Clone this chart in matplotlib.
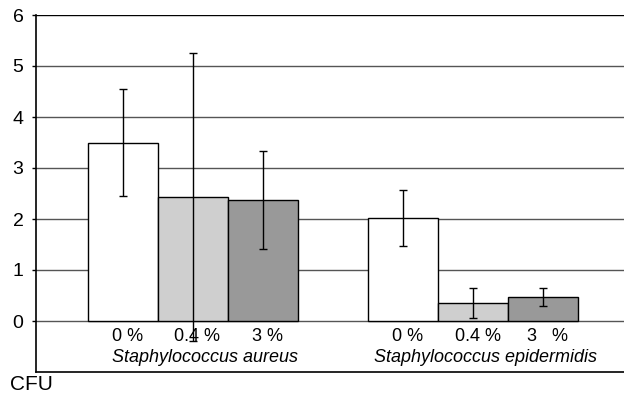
import numpy as np
import matplotlib.pyplot as plt

plt.rcParams['font.family'] = ['Liberation Sans', 'DejaVu Sans']

# ── data ──────────────────────────────────────────────────────────────────
SPECIES  = ['Staphylococcus aureus', 'Staphylococcus epidermidis']
CONC     = ['0 %', '0.4 %', '3 %']
CONC_LBL = [['0 %', '0.4 %', '3 %'], ['0 %', '0.4 %', '3   %']]
MEANS    = [[3.50, 2.43, 2.37], [2.02, 0.35, 0.47]]
ERRS     = [[1.05, 2.83, 0.96], [0.54, 0.29, 0.18]]
COLORS   = ['#ffffff', '#cfcfcf', '#999999']
YTICKS   = [0, 1, 2, 3, 4, 5, 6]

# ── plot ──────────────────────────────────────────────────────────────────
fig = plt.figure(figsize=(6.24, 3.95), dpi=100)
ax = fig.add_axes([36/624, 23/395, 1 - 36/624, 357/395])

for g, sp in enumerate(SPECIES):
    xs = np.arange(len(CONC)) + g * (len(CONC) + 1)
    for k in range(len(CONC)):
        ax.bar(xs[k], MEANS[g][k], width=1.0, color=COLORS[k],
               edgecolor='black', linewidth=1.0, zorder=2)
        ax.errorbar(xs[k], MEANS[g][k], yerr=ERRS[g][k], fmt='none',
                    ecolor='black', elinewidth=1.0, capsize=3, capthick=1.0,
                    zorder=3)
        ax.text(xs[k] + 0.07, -0.31, CONC_LBL[g][k], ha='center', va='center',
                fontsize=13)
    ax.text(xs[1] + 0.18, -0.72, sp, ha='center', va='center',
            fontsize=13, style='italic')

for y in YTICKS:
    ax.axhline(y, color='#000000' if y == 6 else '#555555', lw=1.0, zorder=1)

ax.set_xlim(-1.236, 7.16)
ax.set_ylim(-1, 6)
ax.set_yticks(YTICKS)
ax.set_yticklabels([str(t) for t in YTICKS], fontsize=14)
ax.set_xticks([])
ax.tick_params(axis='y', length=3, width=1, pad=6)
for s in ['top', 'right']:
    ax.spines[s].set_visible(False)
ax.spines['left'].set_linewidth(1.2)
ax.spines['bottom'].set_linewidth(1.2)

fig.text(10/624, 1 - 384/395, 'CFU', ha='left', va='center', fontsize=15)

plt.savefig('out.png', dpi=100)
plt.close()
